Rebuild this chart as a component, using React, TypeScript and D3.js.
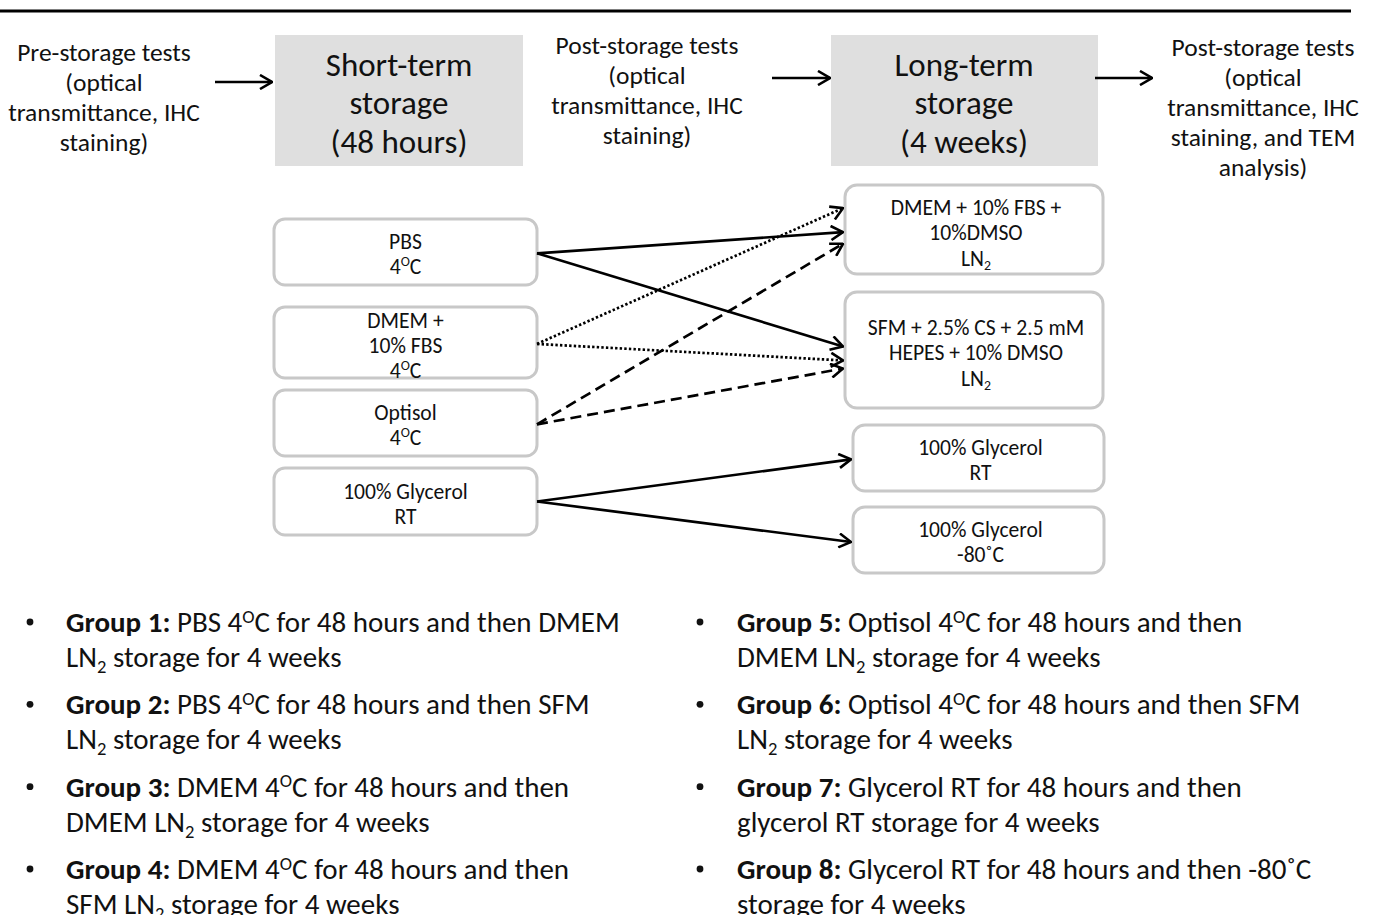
import React from "react";
import * as d3 from "d3";

// ---------- data ----------
type Seg = { t: string; sup?: boolean; sub?: boolean; bold?: boolean };

const headerSteps = [
  ["Pre-storage tests", "(optical", "transmittance, IHC", "staining)"],
  ["Post-storage tests", "(optical", "transmittance, IHC", "staining)"],
  ["Post-storage tests", "(optical", "transmittance, IHC", "staining, and TEM", "analysis)"],
];
const storageTitles = [
  ["Short-term", "storage", "(48 hours)"],
  ["Long-term", "storage", "(4 weeks)"],
];

const shortTermMedia: Seg[][][] = [
  [[{ t: "PBS" }], [{ t: "4" }, { t: "O", sup: true }, { t: "C" }]],
  [[{ t: "DMEM +" }], [{ t: "10% FBS" }], [{ t: "4" }, { t: "O", sup: true }, { t: "C" }]],
  [[{ t: "Optisol" }], [{ t: "4" }, { t: "O", sup: true }, { t: "C" }]],
  [[{ t: "100% Glycerol" }], [{ t: "RT" }]],
];
const longTermMedia: Seg[][][] = [
  [[{ t: "DMEM + 10% FBS +" }], [{ t: "10%DMSO" }], [{ t: "LN" }, { t: "2", sub: true }]],
  [[{ t: "SFM + 2.5% CS + 2.5 mM" }], [{ t: "HEPES + 10% DMSO" }], [{ t: "LN" }, { t: "2", sub: true }]],
  [[{ t: "100% Glycerol" }], [{ t: "RT" }]],
  [[{ t: "100% Glycerol" }], [{ t: "-80˚C" }]],
];

// links: source index, target index, line style
const links = [
  { from: 0, to: 0, style: "solid" },
  { from: 0, to: 1, style: "solid" },
  { from: 1, to: 0, style: "dotted" },
  { from: 1, to: 1, style: "dotted" },
  { from: 2, to: 0, style: "dashed" },
  { from: 2, to: 1, style: "dashed" },
  { from: 3, to: 2, style: "solid" },
  { from: 3, to: 3, style: "solid" },
];

const groups: Seg[][][] = [
  [[{ t: "Group 1: ", bold: true }, { t: "PBS 4" }, { t: "O", sup: true }, { t: "C for 48 hours and then DMEM" }],
   [{ t: "LN" }, { t: "2", sub: true }, { t: " storage for 4 weeks" }]],
  [[{ t: "Group 2: ", bold: true }, { t: "PBS 4" }, { t: "O", sup: true }, { t: "C for 48 hours and then SFM" }],
   [{ t: "LN" }, { t: "2", sub: true }, { t: " storage for 4 weeks" }]],
  [[{ t: "Group 3: ", bold: true }, { t: "DMEM 4" }, { t: "O", sup: true }, { t: "C for 48 hours and then" }],
   [{ t: "DMEM LN" }, { t: "2", sub: true }, { t: " storage for 4 weeks" }]],
  [[{ t: "Group 4: ", bold: true }, { t: "DMEM 4" }, { t: "O", sup: true }, { t: "C for 48 hours and then" }],
   [{ t: "SFM LN" }, { t: "2", sub: true }, { t: " storage for 4 weeks" }]],
  [[{ t: "Group 5: ", bold: true }, { t: "Optisol 4" }, { t: "O", sup: true }, { t: "C for 48 hours and then" }],
   [{ t: "DMEM LN" }, { t: "2", sub: true }, { t: " storage for 4 weeks" }]],
  [[{ t: "Group 6: ", bold: true }, { t: "Optisol 4" }, { t: "O", sup: true }, { t: "C for 48 hours and then SFM" }],
   [{ t: "LN" }, { t: "2", sub: true }, { t: " storage for 4 weeks" }]],
  [[{ t: "Group 7: ", bold: true }, { t: "Glycerol RT for 48 hours and then" }],
   [{ t: "glycerol RT storage for 4 weeks" }]],
  [[{ t: "Group 8: ", bold: true }, { t: "Glycerol RT for 48 hours and then -80˚C" }],
   [{ t: "storage for 4 weeks" }]],
];

// ---------- layout ----------
const W = 1373, H = 915;
const FONT = "Carlito, Lato, 'Open Sans', sans-serif";

const headerX = [104, 647, 1263];
const headerY0 = [52, 45, 47];
const titleBoxes = [
  { x: 275, y: 35, w: 248, h: 131, cx: 399 },
  { x: 831, y: 35, w: 267, h: 131, cx: 964 },
];
const topArrows = [
  { x1: 215, x2: 272, y: 82 },
  { x1: 772, x2: 830, y: 78 },
  { x1: 1095, x2: 1152, y: 78 },
];
const leftBoxes = [
  { y: 219, h: 66, ty: 241 },
  { y: 307, h: 71, ty: 320 },
  { y: 390, h: 66, ty: 412 },
  { y: 468, h: 67, ty: 491 },
];
const leftX = 274, leftW = 263;
const rightBoxes = [
  { x: 845, y: 185, w: 258, h: 89, ty: 207 },
  { x: 845, y: 292, w: 258, h: 116, ty: 327 },
  { x: 853, y: 425, w: 251, h: 66, ty: 447 },
  { x: 853, y: 507, w: 251, h: 66, ty: 529 },
];
// port fractions on box edges per link
const targetPort = [0.53, 0.47, 0.26, 0.59, 0.66, 0.66, 0.52, 0.53];
const sourcePort = [0.52, 0.52, 0.52, 0.52, 0.52, 0.52, 0.5, 0.5];

const groupCols = [{ bx: 30, tx: 66 }, { bx: 700, tx: 737 }];
const groupRow = d3.scaleLinear().domain([0, 3]).range([622, 869]);

const FS_HEAD = 25.5, FS_TITLE = 33, FS_BOX = 21.6, FS_LIST = 29;

function Segs({ segs, size }: { segs: Seg[]; size: number }) {
  const out: React.ReactNode[] = [];
  let shift = 0;
  segs.forEach((s, i) => {
    const target = s.sup ? -size * 0.33 : s.sub ? size * 0.2 : 0;
    const dy = target - shift;
    shift = target;
    out.push(
      <tspan key={i} dy={dy || undefined} fontSize={s.sup || s.sub ? size * 0.64 : undefined}
        fontWeight={s.bold ? "bold" : undefined}>{s.t}</tspan>
    );
  });
  return <>{out}</>;
}

const dashFor: Record<string, string | undefined> = { solid: undefined, dotted: "2.4 2.2", dashed: "11 6" };

export default function App() {
  const line = d3.line();
  return (
    <svg width={W} height={H} viewBox={`0 0 ${W} ${H}`} style={{ display: "block", position: "absolute", left: 0, top: 0 }}
      fontFamily={FONT}>
      <defs>
        <marker id="chev" viewBox="0 0 14 16" refX="13" refY="8" markerWidth="14" markerHeight="16"
          markerUnits="userSpaceOnUse" orient="auto">
          <path d="M1,1 L13,8 L1,15" fill="none" stroke="#000" strokeWidth="2.6" />
        </marker>
      </defs>
      <rect width={W} height={H} fill="#fff" />
      <line x1={0} x2={1351} y1={11} y2={11} stroke="#000" strokeWidth={3} />

      {headerSteps.map((lines, i) => (
        <text key={i} textAnchor="middle" fontSize={FS_HEAD} fill="#111">
          {lines.map((l, j) => (
            <tspan key={j} x={headerX[i]} y={headerY0[i] + j * 30 + FS_HEAD * 0.35}>{l}</tspan>
          ))}
        </text>
      ))}

      {titleBoxes.map((b, i) => (
        <g key={i}>
          <rect x={b.x} y={b.y} width={b.w} height={b.h} fill="#dfdfdf" />
          <text textAnchor="middle" fontSize={FS_TITLE} fill="#111">
            {storageTitles[i].map((l, j) => (
              <tspan key={j} x={b.cx} y={b.y + 29 + j * 38.5 + FS_TITLE * 0.35}>{l}</tspan>
            ))}
          </text>
        </g>
      ))}

      {topArrows.map((a, i) => (
        <path key={i} d={line([[a.x1, a.y], [a.x2, a.y]]) || ""} stroke="#000" strokeWidth={2.6} markerEnd="url(#chev)" />
      ))}

      {leftBoxes.map((b, i) => (
        <g key={i}>
          <rect x={leftX} y={b.y} width={leftW} height={b.h} rx={11} fill="#fff" stroke="#c8c8c8" strokeWidth={3} />
          {shortTermMedia[i].map((segs, j) => (
            <text key={j} x={leftX + leftW / 2} y={b.ty + j * 25 + FS_BOX * 0.35} textAnchor="middle" fontSize={FS_BOX} fill="#111">
              <Segs segs={segs} size={FS_BOX} />
            </text>
          ))}
        </g>
      ))}

      {rightBoxes.map((b, i) => (
        <g key={i}>
          <rect x={b.x} y={b.y} width={b.w} height={b.h} rx={12} fill="#fff" stroke="#c8c8c8" strokeWidth={3} />
          {longTermMedia[i].map((segs, j) => (
            <text key={j} x={b.x + b.w / 2 + 2} y={b.ty + j * 25.5 + FS_BOX * 0.35} textAnchor="middle" fontSize={FS_BOX} fill="#111">
              <Segs segs={segs} size={FS_BOX} />
            </text>
          ))}
        </g>
      ))}

      {links.map((l, i) => {
        const s = leftBoxes[l.from];
        const t = rightBoxes[l.to];
        const p0: [number, number] = [leftX + leftW, s.y + s.h * sourcePort[i]];
        const p1: [number, number] = [t.x - 2, t.y + t.h * targetPort[i]];
        return (
          <path key={i} d={line([p0, p1]) || ""} fill="none" stroke="#000" strokeWidth={2.7}
            strokeDasharray={dashFor[l.style]} markerEnd="url(#chev)" />
        );
      })}

      {groups.map((g, i) => {
        const col = groupCols[Math.floor(i / 4)];
        const y = groupRow(i % 4);
        return (
          <g key={i}>
            <circle cx={col.bx} cy={y} r={3.4} fill="#111" />
            {g.map((segs, j) => (
              <text key={j} x={col.tx} y={y + j * 35 + FS_LIST * 0.35} fontSize={FS_LIST} fill="#111">
                <Segs segs={segs} size={FS_LIST} />
              </text>
            ))}
          </g>
        );
      })}
    </svg>
  );
}
